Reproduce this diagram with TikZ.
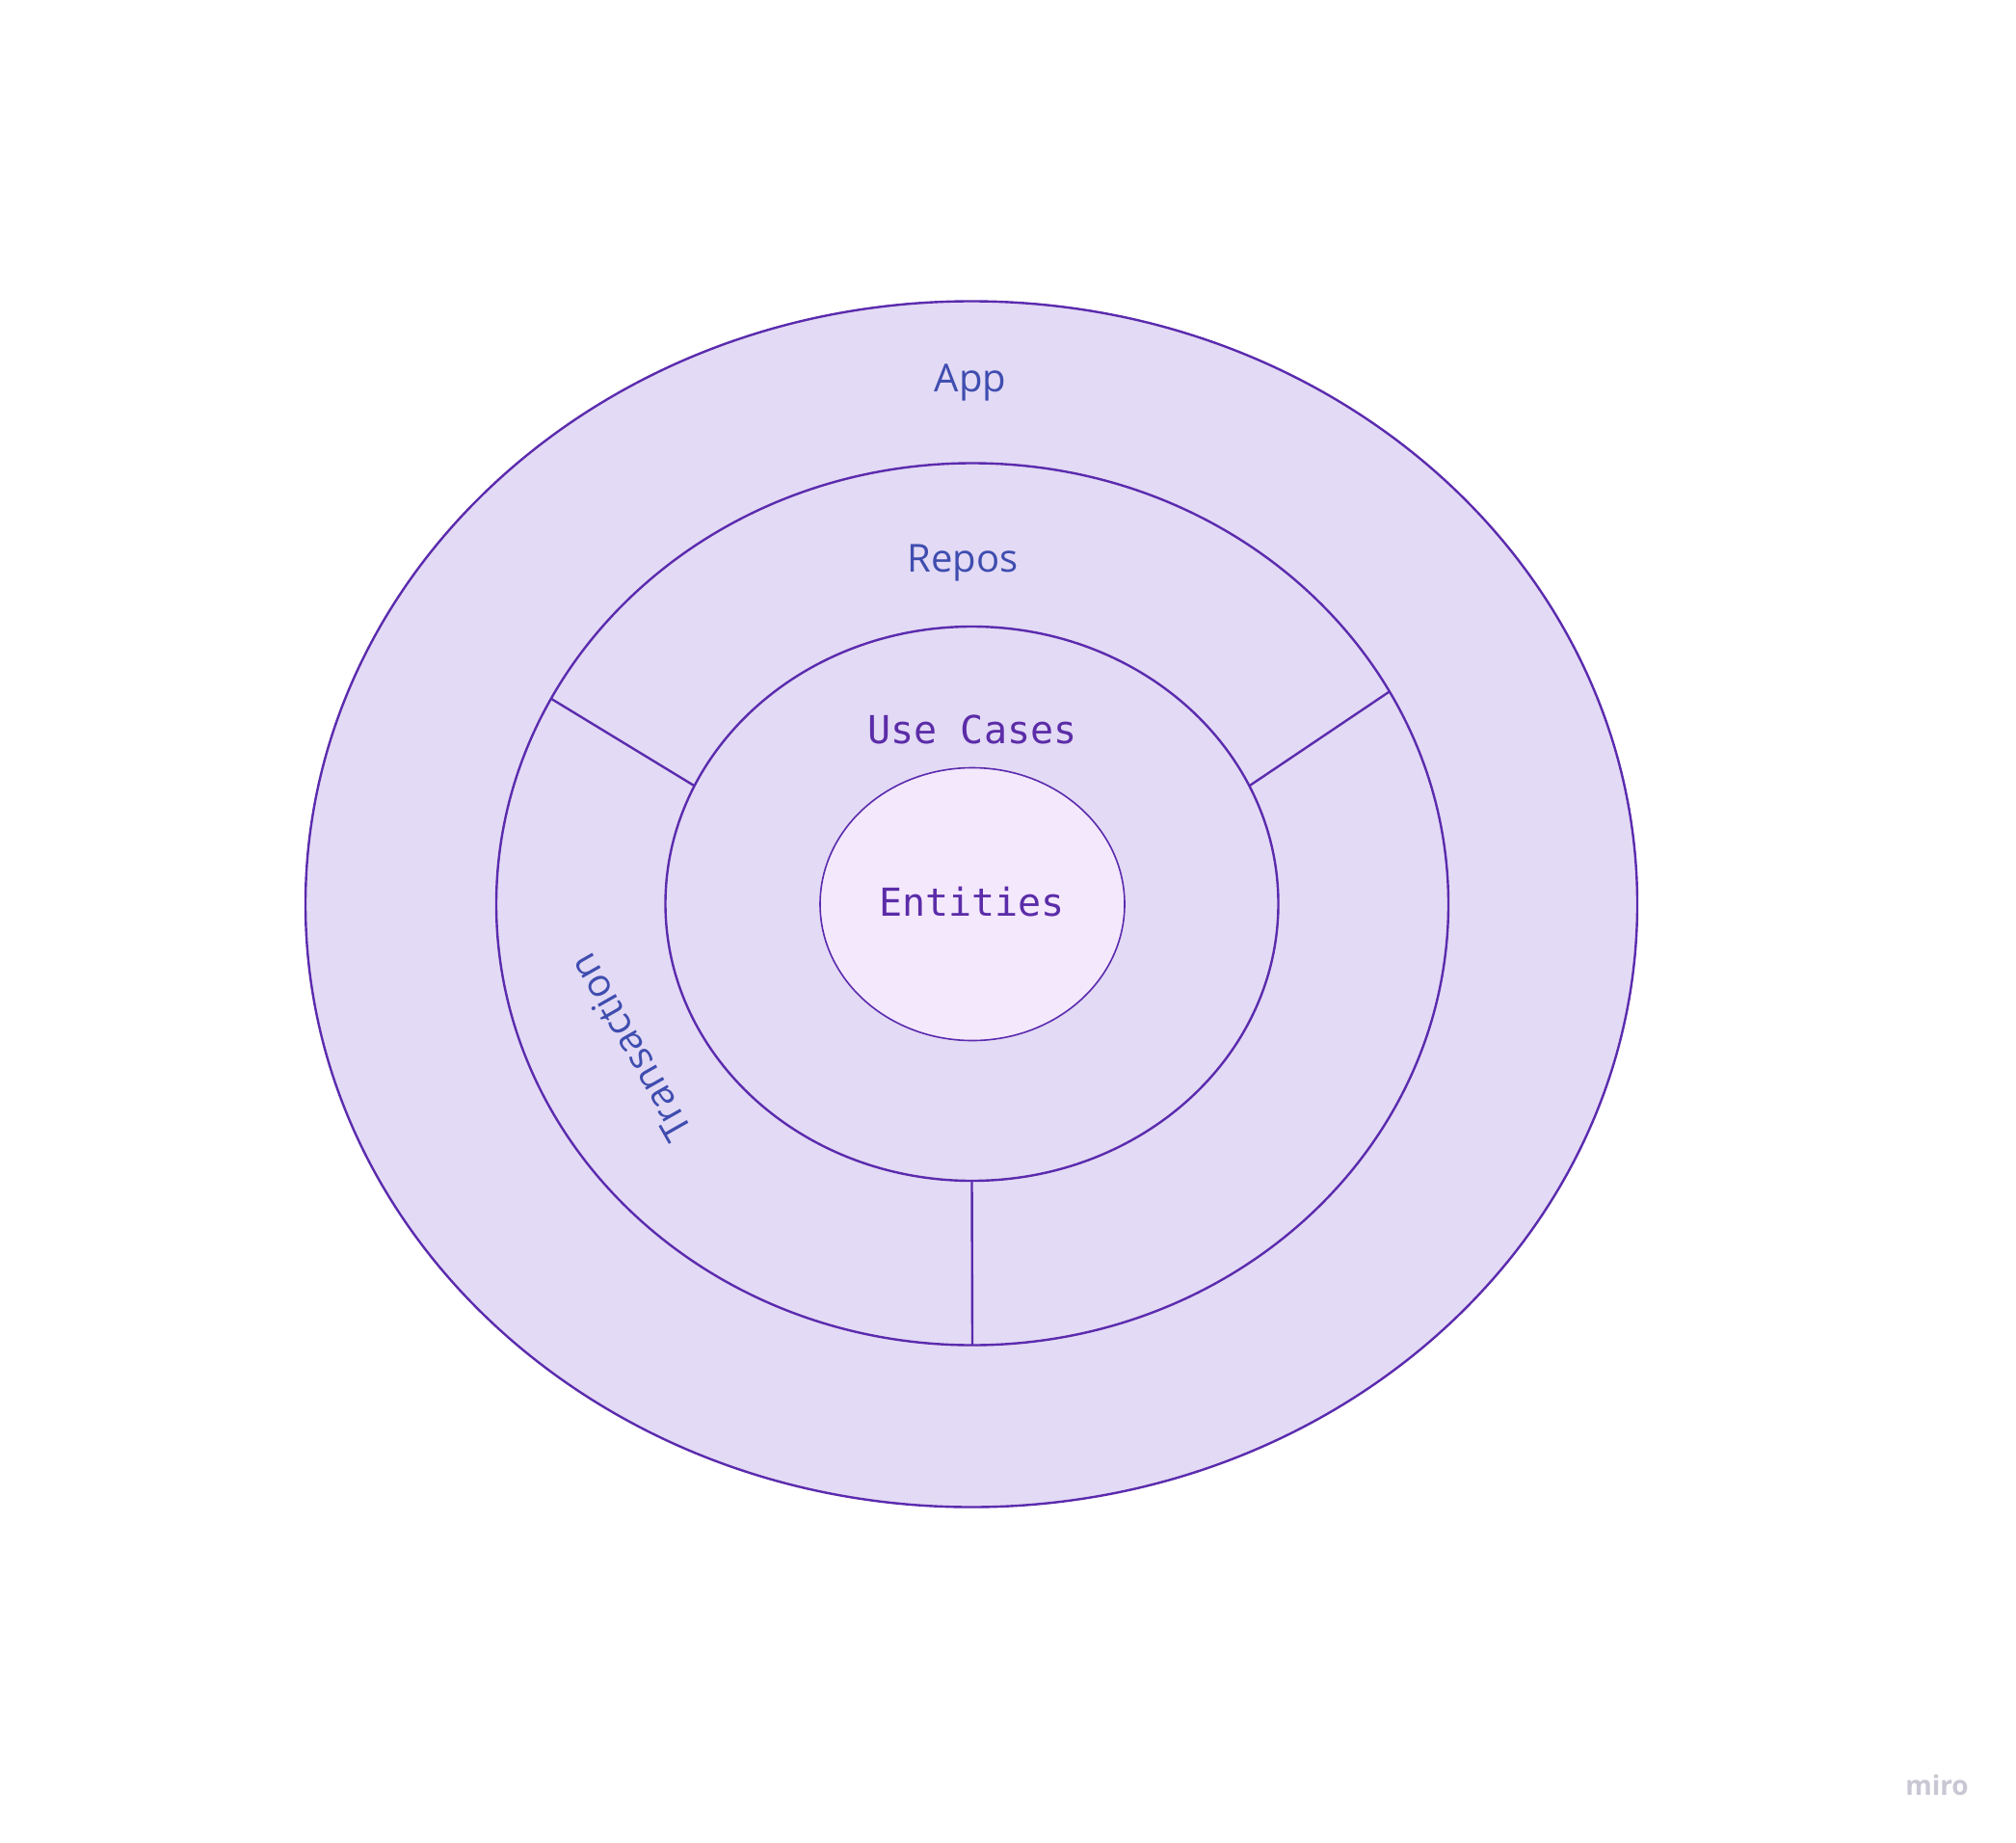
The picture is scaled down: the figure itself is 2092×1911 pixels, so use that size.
\documentclass[tikz,border=0pt]{standalone}
\usepackage{fontspec}
\setmainfont{Open Sans}
\newfontfamily\monof{DejaVu Sans Mono}
\usetikzlibrary{shapes.geometric}
\definecolor{ringfill}{HTML}{E3DAF5}
\definecolor{corefill}{HTML}{F4E8FD}
\definecolor{ringline}{HTML}{5B2BAE}
\definecolor{bluetext}{HTML}{3F4DAF}
\definecolor{purptext}{HTML}{5B2CA8}
\definecolor{mirogray}{HTML}{C8C7D4}
\tikzset{
  ring/.style={ellipse, draw=ringline, fill=ringfill, line width=1.2pt, inner sep=0pt, outer sep=0pt},
  core/.style={ellipse, draw=ringline, fill=corefill, line width=0.8pt, inner sep=0pt, outer sep=0pt},
  divider/.style={draw=ringline, line width=1.2pt},
  sanslabel/.style={text=bluetext, font=\fontsize{20pt}{24pt}\selectfont, inner sep=0pt},
  monolabel/.style={text=purptext, font=\monof\fontsize{20pt}{24pt}\selectfont, inner sep=0pt}
}
\begin{document}
\begin{tikzpicture}[x=0.5pt, y=-0.5pt]
\useasboundingbox (0,0) rectangle (2092,1911);
\fill[white] (0,0) rectangle (2092,1911);
\node[ring, minimum width=691pt, minimum height=625.5pt] (app) at (1008,938) {};
\node[ring, minimum width=494pt, minimum height=457.5pt] (repos) at (1009,938) {};
\node[ring, minimum width=318pt, minimum height=287.5pt] (uc) at (1008.5,937.5) {};
\node[core, minimum width=158pt, minimum height=141.5pt] (ent) at (1009,938) {};
\draw[divider] (repos.154) -- (uc.157.8);
\draw[divider] (repos.27.3) -- (uc.23.4);
\draw[divider] (repos.south) -- (uc.south);
\node[sanslabel, anchor=base] (applbl) at (1007,406.5) {App};
\node[sanslabel, anchor=base] (reposlbl) at (999,593) {Repos};
\node[monolabel, anchor=base] (uclbl) at (1009,771.5) {Use Cases};
\node[monolabel, anchor=base] (entlbl) at (1008.5,950) {Entities};
\node[sanslabel, rotate=119.6] (translbl) at (654,1087) {Transaction};
\node[text=mirogray, font=\bfseries\fontsize{14pt}{16pt}\selectfont, inner sep=0pt, anchor=base] (miro) at (2010,1862) {miro};
\end{tikzpicture}
\end{document}
